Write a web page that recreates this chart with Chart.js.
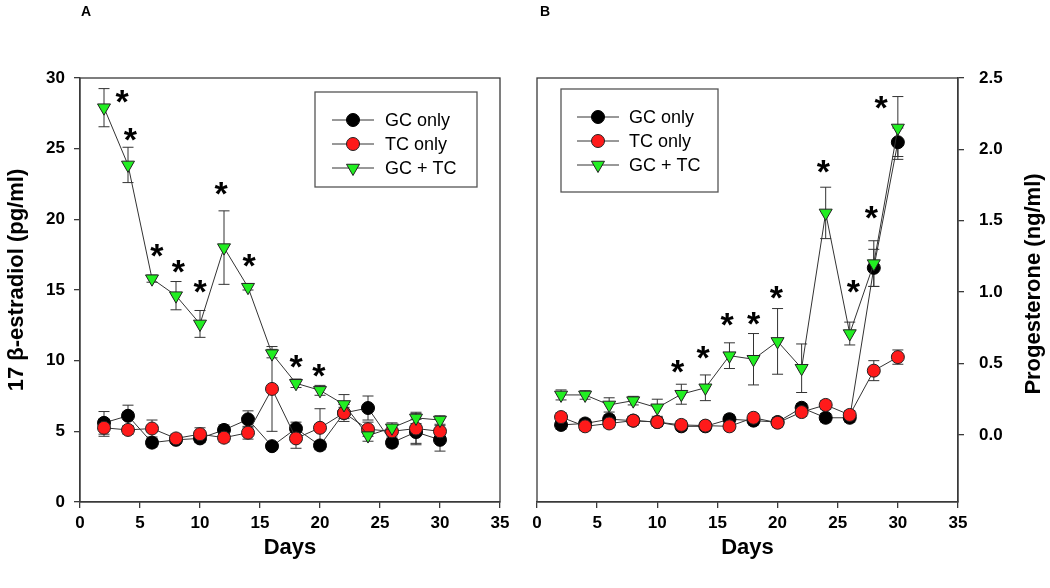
<!DOCTYPE html>
<html><head><meta charset="utf-8">
<script src="https://cdn.jsdelivr.net/npm/chart.js@4.4.0/dist/chart.umd.min.js"></script>
<style>
html,body{margin:0;padding:0;background:#fff;}
#wrap{position:relative;width:1050px;height:588px;background:#fff;}
canvas{position:absolute;top:0;}
#cA{left:0}
#cB{left:525px}
</style></head><body>
<div id="wrap">
<canvas id="cA" width="525" height="588"></canvas>
<canvas id="cB" width="525" height="588"></canvas>
</div>
<script>
// ---------- data ----------
const days = [2,4,6,8,10,12,14,16,18,20,22,24,26,28,30];
const xTicks = [0,5,10,15,20,25,30,35];
const estTicks = [0,5,10,15,20,25,30];
const progTicks = [0,0.5,1,1.5,2,2.5];
const seriesNames = ['GC only','TC only','GC + TC'];

// Panel A: 17 beta-estradiol (pg/ml)
const estGC    = [5.6, 6.1, 4.2, 4.4, 4.5, 5.1, 5.85, 3.95, 5.2, 4.0, 6.3, 6.65, 4.2, 4.95, 4.4];
const estGCErr = [0.8, 0.75, 0.3, 0.25, 0.3, 0.35, 0.6, 0.2, 0.45, 0.3, 0.4, 0.85, 0.3, 0.9, 0.8];
const estTC    = [5.25, 5.1, 5.2, 4.5, 4.8, 4.55, 4.9, 8.0, 4.5, 5.25, 6.3, 5.15, 5.0, 5.2, 5.0];
const estTCErr = [0.6, 0.3, 0.6, 0.3, 0.45, 0.3, 0.45, 3.0, 0.7, 1.35, 0.6, 0.5, 0.4, 1.05, 0.4];
const estGT    = [27.9, 23.85, 15.8, 14.6, 12.6, 18.0, 15.2, 10.5, 8.4, 7.9, 6.9, 4.7, 5.25, 5.95, 5.8];
const estGTErr = [1.35, 1.25, 0.25, 1.0, 0.95, 2.6, 0.2, 0.3, 0.3, 0.35, 0.7, 0.4, 0.35, 0.4, 0.3];
const starDaysA = [3.5, 4.2, 6.4, 8.2, 10.0, 11.75, 14.1, 18.0, 19.9];
const starValsA = [28.9, 26.2, 18.0, 16.9, 15.5, 22.4, 17.3, 10.2, 9.55];

// Panel B: Progesterone (ng/ml)
const progGC    = [0.07, 0.08, 0.11, 0.1, 0.09, 0.06, 0.06, 0.11, 0.1, 0.09, 0.19, 0.12, 0.12, 1.17, 2.05];
const progGCErr = [0.03, 0.03, 0.03, 0.03, 0.03, 0.03, 0.03, 0.03, 0.03, 0.03, 0.03, 0.03, 0.03, 0.13, 0.1];
const progTC    = [0.125, 0.06, 0.08, 0.1, 0.09, 0.07, 0.065, 0.06, 0.12, 0.085, 0.16, 0.21, 0.14, 0.45, 0.545];
const progTCErr = [0.03, 0.03, 0.03, 0.03, 0.03, 0.03, 0.03, 0.03, 0.03, 0.03, 0.03, 0.03, 0.03, 0.07, 0.05];
const progGT    = [0.28, 0.28, 0.21, 0.24, 0.19, 0.285, 0.33, 0.555, 0.53, 0.655, 0.467, 1.555, 0.71, 1.2, 2.15];
const progGTErr = [0.035, 0.03, 0.05, 0.03, 0.06, 0.07, 0.09, 0.09, 0.18, 0.23, 0.17, 0.18, 0.08, 0.16, 0.22];
const starDaysB = [11.7, 13.8, 15.8, 18.0, 19.9, 23.8, 26.3, 27.8, 28.6];
const starValsB = [0.5, 0.6, 0.83, 0.84, 1.02, 1.9, 1.06, 1.58, 2.35];

// ---------- styling ----------
const FONT = "'Liberation Sans', Arial, Helvetica, sans-serif";
const AX = '#3a3a3a';

function pts(ys){ return days.map((d,i)=>({x:d, y:ys[i]})); }

function makeDatasets(gc, gcE, tc, tcE, gt, gtE){
  const base = {borderColor:'#333', borderWidth:1, pointBorderWidth:1, tension:0, fill:false};
  return [
    Object.assign({}, base, {label:seriesNames[0], data:pts(gc), err:gcE, pointStyle:'circle', pointRadius:6.5, pointBackgroundColor:'#000', pointBorderColor:'#000', order:3}),
    Object.assign({}, base, {label:seriesNames[1], data:pts(tc), err:tcE, pointStyle:'circle', pointRadius:6.5, pointBackgroundColor:'#ff1a1a', pointBorderColor:'#222', order:2}),
    Object.assign({}, base, {label:seriesNames[2], data:pts(gt), err:gtE, pointStyle:'triangle', pointRotation:180, pointRadius:7.5, pointBackgroundColor:'#22ee22', pointBorderColor:'#222', order:1})
  ];
}

const errorBarPlugin = {
  id:'errorBars',
  beforeDatasetsDraw(chart){
    const ctx = chart.ctx, xs = chart.scales.x, ys = chart.scales.y;
    ctx.save();
    ctx.strokeStyle = '#333'; ctx.lineWidth = 1;
    chart.data.datasets.forEach(ds=>{
      ds.data.forEach((p,i)=>{
        const e = ds.err[i];
        const px = xs.getPixelForValue(p.x);
        const t = ys.getPixelForValue(p.y + e), b = ys.getPixelForValue(p.y - e);
        ctx.beginPath();
        ctx.moveTo(px, t); ctx.lineTo(px, b);
        ctx.moveTo(px-5.5, t); ctx.lineTo(px+5.5, t);
        ctx.moveTo(px-5.5, b); ctx.lineTo(px+5.5, b);
        ctx.stroke();
      });
    });
    ctx.restore();
  }
};

const framePlugin = {
  id:'frame',
  afterDraw(chart){
    const a = chart.chartArea, ctx = chart.ctx;
    ctx.save(); ctx.strokeStyle = AX; ctx.lineWidth = 1.3;
    ctx.strokeRect(a.left, a.top, a.right-a.left, a.bottom-a.top);
    ctx.restore();
  }
};

function starPlugin(sx, sy){
  return {
    id:'stars',
    afterDatasetsDraw(chart){
      const ctx = chart.ctx, xs = chart.scales.x, ys = chart.scales.y;
      const fs = 34;
      ctx.save();
      ctx.fillStyle = '#000';
      ctx.font = 'bold ' + fs + 'px ' + FONT;
      ctx.textAlign = 'center'; ctx.textBaseline = 'alphabetic';
      sx.forEach((d,i)=>{
        ctx.fillText('*', xs.getPixelForValue(d), ys.getPixelForValue(sy[i]) + 0.58*fs);
      });
      ctx.restore();
    }
  };
}

function legendPlugin(L){
  return {
    id:'boxLegend',
    afterDraw(chart){
      const ctx = chart.ctx;
      ctx.save();
      ctx.fillStyle = '#fff';
      ctx.fillRect(L.x, L.y, L.w, L.h);
      ctx.strokeStyle = '#555'; ctx.lineWidth = 1.3;
      ctx.strokeRect(L.x, L.y, L.w, L.h);
      chart.data.datasets.forEach((ds,i)=>{
        const y = L.rows[i];
        ctx.strokeStyle = '#333'; ctx.lineWidth = 1;
        ctx.beginPath(); ctx.moveTo(L.x1, y); ctx.lineTo(L.x2, y); ctx.stroke();
        ctx.fillStyle = ds.pointBackgroundColor; ctx.strokeStyle = ds.pointBorderColor; ctx.lineWidth = 1;
        Chart.helpers.drawPoint(ctx, {pointStyle:ds.pointStyle, rotation:ds.pointRotation||0, radius:ds.pointRadius, borderWidth:1}, L.mx, y);
        ctx.fillStyle = '#000';
        ctx.font = '18px ' + FONT;
        ctx.textAlign = 'left'; ctx.textBaseline = 'middle';
        ctx.fillText(ds.label, L.tx, y + 1);
      });
      ctx.restore();
    }
  };
}

function textPlugin(T){
  return {
    id:'texts',
    afterDraw(chart){
      const ctx = chart.ctx;
      ctx.save();
      ctx.fillStyle = '#000';
      ctx.font = 'bold 14px ' + FONT;
      ctx.textAlign = 'center'; ctx.textBaseline = 'middle';
      ctx.fillText(T.letter, T.lx, T.ly);
      ctx.translate(T.tx, T.ty);
      ctx.rotate(-Math.PI/2);
      ctx.font = 'bold 22px ' + FONT;
      ctx.fillText(T.title, 0, 0);
      ctx.restore();
    }
  };
}

function makeChart(id, o){
  const tickFont = {family:FONT, size:17, weight:'bold'};
  return new Chart(document.getElementById(id), {
    type:'line',
    data:{datasets:o.datasets},
    options:{
      responsive:false, animation:false, events:[],
      layout:{autoPadding:false, padding:o.padding},
      plugins:{legend:{display:false}, tooltip:{enabled:false}},
      scales:{
        x:{type:'linear', min:0, max:35,
          afterBuildTicks:s=>{ s.ticks = xTicks.map(v=>({value:v})); },
          afterFit:s=>{ s.height = 86; },
          grid:{drawOnChartArea:false, drawTicks:true, tickLength:6, color:AX, lineWidth:1.3},
          border:{display:true, color:AX, width:1.3},
          ticks:{padding:5, color:'#000', font:tickFont, autoSkip:false, maxRotation:0},
          title:{display:true, text:'Days', color:'#000', font:{family:FONT, size:22, weight:'bold'}, padding:{top:0, bottom:27}}
        },
        y:{type:'linear', position:o.yPos, min:o.yMin, max:o.yMax,
          afterBuildTicks:s=>{ s.ticks = o.yTicks.map(v=>({value:v})); },
          afterFit:s=>{ s.width = o.yWidth; },
          grid:{drawOnChartArea:false, drawTicks:true, tickLength:6, color:AX, lineWidth:1.3},
          border:{display:true, color:AX, width:1.3},
          ticks:{padding:o.yPad, color:'#000', font:tickFont, autoSkip:false, callback:o.fmt}
        }
      }
    },
    plugins:[errorBarPlugin, framePlugin, starPlugin(o.sx, o.sy), legendPlugin(o.legend), textPlugin(o.text)]
  });
}

makeChart('cA', {
  datasets: makeDatasets(estGC, estGCErr, estTC, estTCErr, estGT, estGTErr),
  padding:{left:0, top:78, right:25, bottom:0},
  yPos:'left', yMin:0, yMax:30, yTicks:estTicks, yWidth:80, yPad:9,
  fmt: v => String(v),
  sx: starDaysA, sy: starValsA,
  legend:{x:315, y:92, w:162, h:95, rows:[120,144,168], x1:332, x2:374, mx:353, tx:385},
  text:{letter:'A', lx:86, ly:12, title:'17 \u03b2-estradiol (pg/ml)', tx:17, ty:280}
});

makeChart('cB', {
  datasets: makeDatasets(progGC, progGCErr, progTC, progTCErr, progGT, progGTErr),
  padding:{left:12, top:78, right:0, bottom:0},
  yPos:'right', yMin:-0.47, yMax:2.5, yTicks:progTicks, yWidth:92, yPad:15,
  fmt: v => Number(v).toFixed(1),
  sx: starDaysB, sy: starValsB,
  legend:{x:36, y:89, w:157, h:103, rows:[117,141,165], x1:52, x2:94, mx:73, tx:104},
  text:{letter:'B', lx:20, ly:12, title:'Progesterone (ng/ml)', tx:509, ty:284}
});
</script>
</body></html>
